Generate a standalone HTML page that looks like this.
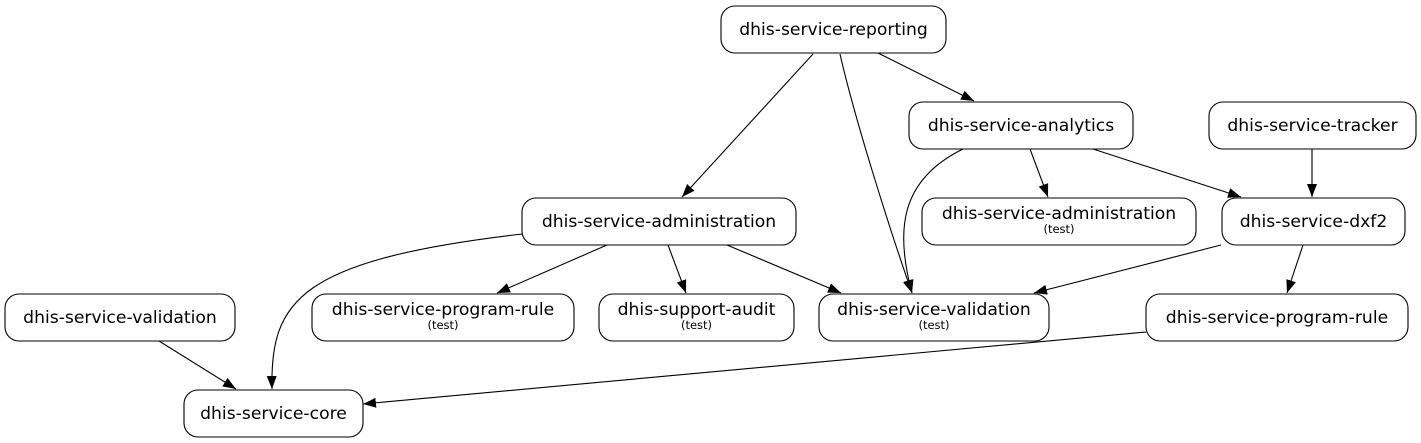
<!DOCTYPE html>
<html><head><meta charset="utf-8"><style>
html,body{margin:0;padding:0;background:#fff;}
svg{display:block}
text{font-family:"DejaVu Sans","Liberation Sans",sans-serif;fill:#000}
</style></head><body>
<svg width="1421" height="443" viewBox="0 0 1421 443" xmlns="http://www.w3.org/2000/svg">
<defs><marker id="a" viewBox="0 0 13 12" refX="13" refY="6" markerWidth="13" markerHeight="12" markerUnits="userSpaceOnUse" orient="auto"><path d="M0,1 L13,6 L0,11 Z" fill="#000"/></marker></defs>
<g fill="none" stroke="#000" stroke-width="1.1" marker-end="url(#a)">
<path d="M878,53 L974,101"/>
<path d="M813,54 L682,197"/>
<path d="M840,54 C855,120 890,230 912,293"/>
<path d="M1030,149 L1048,197"/>
<path d="M1093,149 L1241,197"/>
<path d="M963,149 C900,180 895,230 912,293"/>
<path d="M1312,149 L1312,197"/>
<path d="M607,245 L497,293"/>
<path d="M668,245 L686,293"/>
<path d="M727,245 L841,293"/>
<path d="M522,234 C300,260 270,300 272,389"/>
<path d="M1221,245 L1034,293"/>
<path d="M1303,245 L1287,293"/>
<path d="M159,341 L236,389"/>
<path d="M1146,332 L363,404"/>
</g>
<g fill="#fff" stroke="#000" stroke-width="1.1">
<rect x="721" y="6" width="225" height="47" rx="14"/>
<rect x="909" y="102" width="224" height="47" rx="14"/>
<rect x="1209" y="102" width="207" height="47" rx="14"/>
<rect x="522" y="198" width="274" height="47" rx="14"/>
<rect x="922" y="198" width="274" height="47" rx="14"/>
<rect x="1222" y="198" width="183" height="47" rx="14"/>
<rect x="5" y="294" width="230" height="47" rx="14"/>
<rect x="312" y="294" width="262" height="47" rx="14"/>
<rect x="599" y="294" width="195" height="47" rx="14"/>
<rect x="819" y="294" width="230" height="47" rx="14"/>
<rect x="1146" y="294" width="262" height="47" rx="14"/>
<rect x="184" y="390" width="179" height="47" rx="14"/>
</g>
<g font-size="17.2" text-anchor="middle">
<text x="833.5" y="35">dhis-service-reporting</text>
<text x="1021" y="131">dhis-service-analytics</text>
<text x="1312.5" y="131">dhis-service-tracker</text>
<text x="659" y="227">dhis-service-administration</text>
<text x="1059" y="219">dhis-service-administration</text>
<text x="1313.5" y="227">dhis-service-dxf2</text>
<text x="120" y="323">dhis-service-validation</text>
<text x="443" y="315">dhis-service-program-rule</text>
<text x="696.5" y="315">dhis-support-audit</text>
<text x="934" y="315">dhis-service-validation</text>
<text x="1277" y="323">dhis-service-program-rule</text>
<text x="273.5" y="419">dhis-service-core</text>
</g>
<g font-size="11.5" text-anchor="middle">
<text x="1059" y="233">(test)</text>
<text x="443" y="329">(test)</text>
<text x="696.5" y="329">(test)</text>
<text x="934" y="329">(test)</text>
</g>
</svg>
</body></html>
